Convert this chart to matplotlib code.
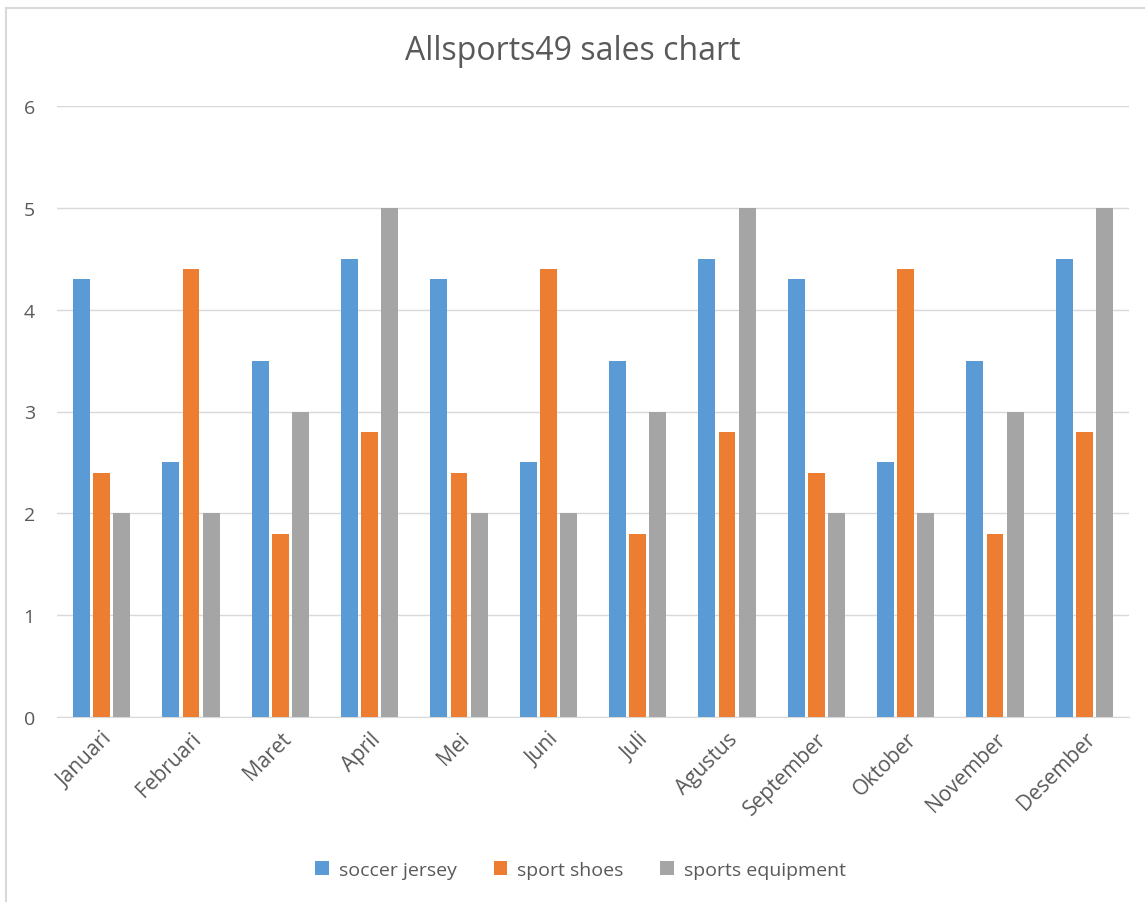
import matplotlib
matplotlib.use("Agg")
import matplotlib.pyplot as plt
import numpy as np
from matplotlib.lines import Line2D

months = ["Januari", "Februari", "Maret", "April", "Mei", "Juni", "Juli",
          "Agustus", "September", "Oktober", "November", "Desember"]
soccer_jersey = [4.3, 2.5, 3.5, 4.5, 4.3, 2.5, 3.5, 4.5, 4.3, 2.5, 3.5, 4.5]
sport_shoes = [2.4, 4.4, 1.8, 2.8, 2.4, 4.4, 1.8, 2.8, 2.4, 4.4, 1.8, 2.8]
sports_equipment = [2, 2, 3, 5, 2, 2, 3, 5, 2, 2, 3, 5]
series_names = ["soccer jersey", "sport shoes", "sports equipment"]
colors = ["#5B9BD5", "#ED7D31", "#A5A5A5"]
yticks = [0, 1, 2, 3, 4, 5, 6]

plt.rcParams['font.family'] = ['Open Sans', 'DejaVu Sans']
text_color = "#595959"

W, H = 1145, 903
fig = plt.figure(figsize=(W/100, H/100), dpi=100)
# outer chart border (top and left visible)
fig.lines.append(Line2D([6/W, 6/W], [0, 1 - 9/H], transform=fig.transFigure,
                        color="#D9D9D9", linewidth=1.5))
fig.lines.append(Line2D([6/W, 1], [1 - 9/H, 1 - 9/H], transform=fig.transFigure,
                        color="#D9D9D9", linewidth=1.5))

ax = fig.add_axes([57/W, 1 - 718/H, (1129-57)/W, (718-107)/H])

x = np.arange(len(months))
w = 0.19
step = 0.225
for i, (vals, c, name) in enumerate(zip([soccer_jersey, sport_shoes, sports_equipment], colors, series_names)):
    ax.bar(x + (i - 1) * step, vals, width=w, color=c, label=name, zorder=3)

ax.set_xlim(-0.5, len(months) - 0.5)
ax.set_ylim(0, 6)
ax.set_yticks(yticks)
ax.set_yticklabels([str(t) for t in yticks], fontsize=14, color=text_color)
ax.yaxis.grid(True, color="#D9D9D9", linewidth=1, zorder=0)
ax.set_xticks(x)
ax.set_xticklabels(months, rotation=45, ha="right", rotation_mode="anchor",
                   fontsize=15, color=text_color)
ax.tick_params(axis='both', length=0)
ax.tick_params(axis='y', pad=16)
ax.tick_params(axis='x', pad=8)
for s in ["top", "right", "left"]:
    ax.spines[s].set_visible(False)
ax.spines["bottom"].set_color("#D9D9D9")

fig.text(0.5, 1 - 52/H, "Allsports49 sales chart", ha="center", va="center",
         fontsize=23, color=text_color)

leg = fig.legend(loc="center", bbox_to_anchor=(0.507, 1 - 871/H), ncol=3, frameon=False,
                 fontsize=14, handlelength=0.7, handleheight=0.7, columnspacing=1.9,
                 handletextpad=0.5)
for t in leg.get_texts():
    t.set_color(text_color)

fig.savefig("out.png", dpi=100)
